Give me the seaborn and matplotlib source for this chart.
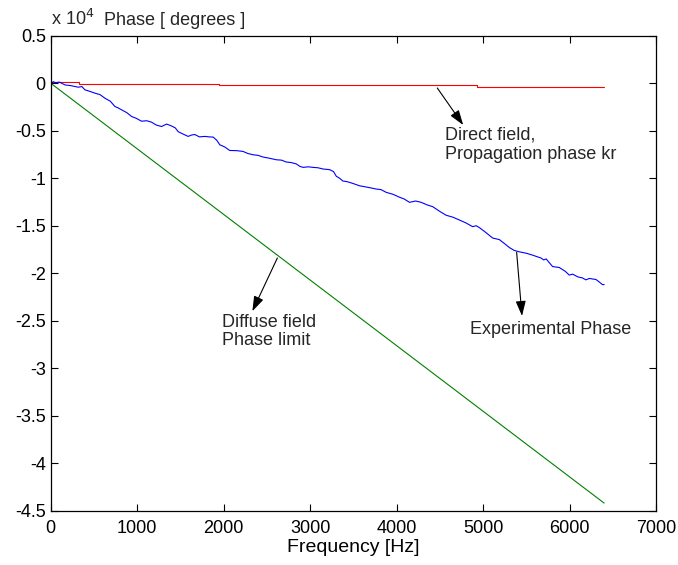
import numpy as np
import pandas as pd
import matplotlib
matplotlib.use("Agg")
import matplotlib.pyplot as plt
import seaborn as sns

# ---- data (phase in units of 1e4 degrees) ----
freq_direct = [0, 327, 327, 1943, 1943, 4935, 4935, 6400]
phase_direct = [0.008, 0.008, -0.011, -0.011, -0.023, -0.023, -0.036, -0.036]

freq_diffuse = [0, 6400]
phase_diffuse = [0.0, -4.42]

freq_exp = [0, 30, 60, 100, 165, 230, 319, 360, 396, 450, 512, 570, 627, 690, 742,
            780, 819, 880, 935, 990, 1050, 1110, 1166, 1220, 1282, 1340, 1397, 1440,
            1474, 1530, 1589, 1630, 1666, 1720, 1782, 1830, 1878, 1920, 1955, 2010,
            2070, 2150, 2224, 2280, 2340, 2400, 2455, 2530, 2610, 2670, 2725, 2780,
            2841, 2880, 2918, 2980, 3033, 3090, 3148, 3225, 3270, 3303, 3340, 3379,
            3420, 3456, 3510, 3572, 3610, 3690, 3764, 3820, 3880, 3960, 4033, 4090,
            4149, 4220, 4284, 4350, 4418, 4500, 4573, 4650, 4726, 4800, 4880, 4920,
            4957, 5030, 5111, 5188, 5250, 5304, 5360, 5419, 5500, 5573, 5620, 5670,
            5700, 5730, 5766, 5804, 5881, 5950, 5997, 6035, 6100, 6150, 6189, 6230,
            6260, 6305, 6340, 6381, 6400]
phase_exp = [0.0, 0.015, 0.005, 0.012, -0.018, -0.025, -0.042, -0.035, -0.07, -0.085,
             -0.105, -0.12, -0.158, -0.19, -0.245, -0.26, -0.28, -0.31, -0.35, -0.37,
             -0.40, -0.395, -0.41, -0.44, -0.456, -0.43, -0.45, -0.47, -0.51, -0.535,
             -0.56, -0.545, -0.54, -0.565, -0.56, -0.565, -0.567, -0.60, -0.648, -0.67,
             -0.708, -0.71, -0.718, -0.74, -0.753, -0.76, -0.777, -0.79, -0.806, -0.81,
             -0.83, -0.835, -0.85, -0.875, -0.886, -0.88, -0.886, -0.89, -0.903, -0.91,
             -0.93, -0.98, -1.0, -1.03, -1.035, -1.044, -1.06, -1.08, -1.086, -1.10,
             -1.114, -1.12, -1.149, -1.17, -1.20, -1.22, -1.254, -1.24, -1.254, -1.28,
             -1.30, -1.35, -1.39, -1.41, -1.44, -1.47, -1.51, -1.50, -1.52, -1.57,
             -1.63, -1.646, -1.69, -1.73, -1.76, -1.775, -1.79, -1.81, -1.825, -1.84,
             -1.86, -1.85, -1.89, -1.93, -1.94, -1.98, -2.02, -2.01, -2.04, -2.05,
             -2.07, -2.055, -2.06, -2.066, -2.09, -2.12, -2.12]

x_ticks = [0, 1000, 2000, 3000, 4000, 5000, 6000, 7000]
y_ticks = [0.5, 0, -0.5, -1, -1.5, -2, -2.5, -3, -3.5, -4, -4.5]
y_tick_labels = ["0.5", "0", "-0.5", "-1", "-1.5", "-2", "-2.5", "-3", "-3.5", "-4", "-4.5"]

# ---- style ----
sns.set_theme(style="ticks")
plt.rcParams["font.family"] = ["Liberation Sans", "DejaVu Sans"]
plt.rcParams["axes.unicode_minus"] = False

fig = plt.figure(figsize=(6.78, 5.65), dpi=100)
ax = fig.add_axes([0.0748, 0.0961, 0.9676 - 0.0748, 0.9368 - 0.0961])

df_direct = pd.DataFrame({"f": freq_direct, "p": phase_direct})
df_diff = pd.DataFrame({"f": freq_diffuse, "p": phase_diffuse})
df_exp = pd.DataFrame({"f": freq_exp, "p": phase_exp})

sns.lineplot(data=df_direct, x="f", y="p", ax=ax, color="#ff0000", lw=0.8,
             sort=False, estimator=None)
sns.lineplot(data=df_exp, x="f", y="p", ax=ax, color="#0000ff", lw=0.8,
             sort=False, estimator=None)
sns.lineplot(data=df_diff, x="f", y="p", ax=ax, color="#008000", lw=0.8,
             sort=False, estimator=None)

ax.set_xlim(0, 7000)
ax.set_ylim(-4.5, 0.5)
ax.set_xticks(x_ticks)
ax.set_xticklabels([str(t) for t in x_ticks])
ax.set_yticks(y_ticks)
ax.set_yticklabels(y_tick_labels)
ax.tick_params(direction="in", length=5, width=0.8, color="black",
               top=True, right=True, labelsize=13, colors="black")
ax.tick_params(axis="x", pad=7)
ax.tick_params(axis="y", pad=3.5)
for s in ax.spines.values():
    s.set_visible(True)
    s.set_color("black")
    s.set_linewidth(0.9)
ax.set_xlabel("Frequency [Hz]", fontsize=14, color="black", labelpad=1)
ax.set_ylabel("")

fig.text(51 / 678, 1 - 25 / 565, "x 10$^{4}$", fontsize=13, ha="left", va="baseline")
fig.text(104 / 678, 1 - 25 / 565, "Phase [ degrees ]", fontsize=13, ha="left", va="baseline")

arrow = dict(arrowstyle="-|>,head_length=0.65,head_width=0.22", color="black",
             lw=0.8, mutation_scale=14, shrinkA=0, shrinkB=0)
ax.annotate("", xy=(4770, -0.44), xytext=(4470, -0.05), arrowprops=arrow)
ax.text(4560, -0.455, "Direct field,\nPropagation phase kr", fontsize=13,
        ha="left", va="top", linespacing=1.2)

ax.annotate("", xy=(5450, -2.45), xytext=(5388, -1.78), arrowprops=arrow)
ax.text(4850, -2.50, "Experimental Phase", fontsize=13, ha="left", va="top")

ax.annotate("", xy=(2332, -2.40), xytext=(2621, -1.84), arrowprops=arrow)
ax.text(1977, -2.425, "Diffuse field\nPhase limit", fontsize=13,
        ha="left", va="top", linespacing=1.1)

fig.savefig("out.png", dpi=100)
